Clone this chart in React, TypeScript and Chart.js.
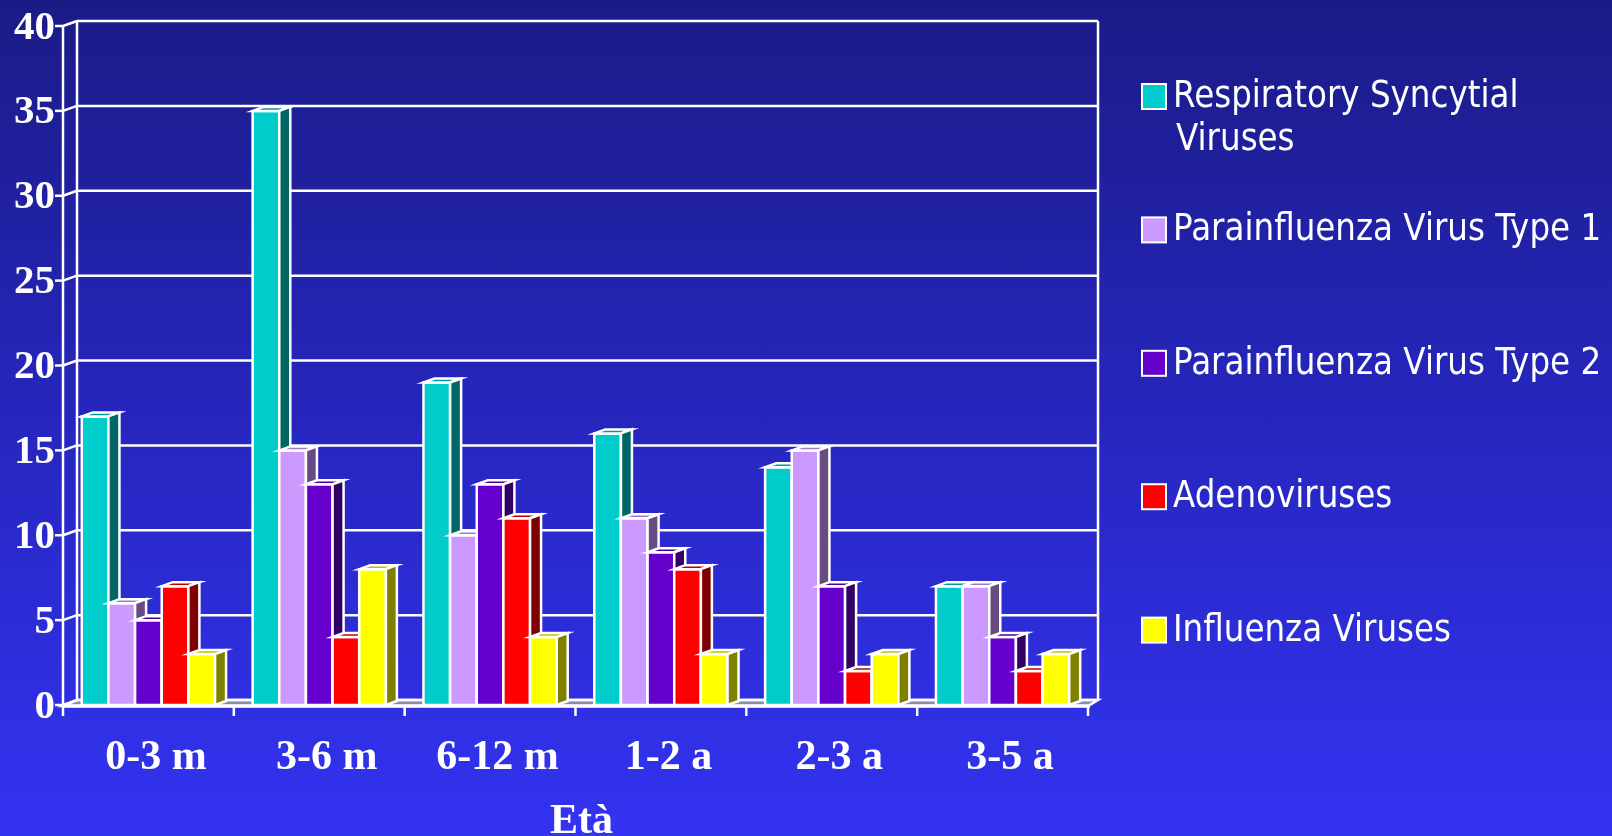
import React, { useEffect, useRef } from "react";
import { Chart, registerables } from "chart.js";

Chart.register(...registerables);

// ---- data ----
const categories = ["0-3 m", "3-6 m", "6-12 m", "1-2 a", "2-3 a", "3-5 a"];
const seriesLabels = [
  "Respiratory Syncytial Viruses",
  "Parainfluenza Virus Type 1",
  "Parainfluenza Virus Type 2",
  "Adenoviruses",
  "Influenza Viruses",
];
const legendLines = [
  ["Respiratory Syncytial", "Viruses"],
  ["Parainfluenza Virus Type 1"],
  ["Parainfluenza Virus Type 2"],
  ["Adenoviruses"],
  ["Influenza Viruses"],
];
const rsvValues = [17, 35, 19, 16, 14, 7];
const para1Values = [6, 15, 10, 11, 15, 7];
const para2Values = [5, 13, 13, 9, 7, 4];
const adenoValues = [7, 4, 11, 8, 2, 2];
const fluValues = [3, 8, 4, 3, 3, 3];
const yTicks = [0, 5, 10, 15, 20, 25, 30, 35, 40];
const xTitle = "Età";

// ---- styles ----
const frontColors = ["#00CCCC", "#CC99FF", "#6600CC", "#FF0000", "#FFFF00"];
const topColors = ["#009C9C", "#A07CC8", "#4C0099", "#C00000", "#C0C000"];
const sideColors = ["#006666", "#664C80", "#330066", "#800000", "#808000"];

const seriesValues = [rsvValues, para1Values, para2Values, adenoValues, fluValues];

const BAR_DX = 11;
const BAR_DY = -4;
const WALL_DX_L = 14;
const WALL_DX_R = 10;
const WALL_DY = -5;

function poly(ctx: CanvasRenderingContext2D, pts: number[][], fill: string) {
  ctx.beginPath();
  ctx.moveTo(pts[0][0], pts[0][1]);
  for (let i = 1; i < pts.length; i++) ctx.lineTo(pts[i][0], pts[i][1]);
  ctx.closePath();
  ctx.fillStyle = fill;
  ctx.fill();
  ctx.stroke();
}

function line(ctx: CanvasRenderingContext2D, x1: number, y1: number, x2: number, y2: number) {
  ctx.beginPath();
  ctx.moveTo(x1, y1);
  ctx.lineTo(x2, y2);
  ctx.stroke();
}

const threeDPlugin = {
  id: "threeD",
  beforeDatasetsDraw(chart: any) {
    const { ctx, chartArea } = chart;
    const y = chart.scales.y;
    const { left, right, top, bottom } = chartArea;
    const backL = left + WALL_DX_L;
    const backR = right + WALL_DX_R;
    ctx.save();
    ctx.strokeStyle = "#FFFFFF";
    ctx.lineWidth = 2.5;
    ctx.lineJoin = "miter";
    // floor
    poly(
      ctx,
      [
        [left, bottom + 1],
        [right, bottom + 1],
        [backR, bottom + WALL_DY],
        [backL, bottom + WALL_DY],
      ],
      "#8C8CA8"
    );
    // back wall gridlines and left wall ticks
    yTicks.forEach((v) => {
      const yp = y.getPixelForValue(v);
      line(ctx, backL, yp + WALL_DY, backR, yp + WALL_DY);
      line(ctx, left - 8, yp, left, yp);
      line(ctx, left, yp, backL, yp + WALL_DY);
    });
    // verticals
    line(ctx, left, top, left, bottom + 2);
    line(ctx, backL, top + WALL_DY, backL, bottom + WALL_DY);
    line(ctx, backR, top + WALL_DY, backR, bottom + WALL_DY);
    // front floor edge
    ctx.lineWidth = 3.5;
    line(ctx, left, bottom + 1, right + 2, bottom + 1);
    ctx.lineWidth = 2.5;
    // category ticks
    const n = categories.length;
    const catW = (right - left) / n;
    for (let k = 0; k <= n; k++) {
      const xp = left + k * catW;
      line(ctx, xp, bottom + 1, xp, bottom + 11);
    }
    ctx.restore();
  },
  afterDatasetsDraw(chart: any) {
    const { ctx } = chart;
    ctx.save();
    ctx.strokeStyle = "#FFFFFF";
    ctx.lineWidth = 2.5;
    ctx.lineJoin = "miter";
    for (let c = 0; c < categories.length; c++) {
      for (let d = 0; d < seriesValues.length; d++) {
        const el = chart.getDatasetMeta(d).data[c];
        if (!el) continue;
        const p = el.getProps(["x", "y", "base", "width"], true);
        const x0 = p.x - p.width / 2;
        const x1 = p.x + p.width / 2;
        const t = p.y;
        const b = p.base;
        // front
        poly(ctx, [[x0, t], [x1, t], [x1, b], [x0, b]], frontColors[d]);
        // top
        poly(
          ctx,
          [[x0, t], [x1, t], [x1 + BAR_DX, t + BAR_DY], [x0 + BAR_DX, t + BAR_DY]],
          topColors[d]
        );
        // side
        poly(
          ctx,
          [[x1, t], [x1 + BAR_DX, t + BAR_DY], [x1 + BAR_DX, b + BAR_DY], [x1, b]],
          sideColors[d]
        );
      }
    }
    ctx.restore();
  },
  afterDraw(chart: any) {
    const { ctx, chartArea } = chart;
    const x = chart.scales.x;
    const y = chart.scales.y;
    ctx.save();
    ctx.fillStyle = "#FFFFFF";
    // y tick labels
    ctx.font = 'bold 41px "Liberation Serif", "Times New Roman", serif';
    ctx.textAlign = "right";
    ctx.textBaseline = "middle";
    yTicks.forEach((v) => {
      ctx.fillText(String(v), chartArea.left - 8, y.getPixelForValue(v) + 2);
    });
    // x category labels
    ctx.font = 'bold 42px "Liberation Serif", "Times New Roman", serif';
    ctx.textAlign = "center";
    ctx.textBaseline = "alphabetic";
    categories.forEach((lab, i) => {
      ctx.fillText(lab, x.getPixelForValue(i) + 7.5, chartArea.bottom + 64);
    });
    // axis title
    ctx.fillText(xTitle, (chartArea.left + chartArea.right) / 2 + 6, chartArea.bottom + 128);
    // legend
    const lx = 1142;
    const tx = 1173;
    const step = 133.4;
    const firstBase = 107;
    ctx.textAlign = "left";
    ctx.font = '37px "DejaVu Sans", Verdana, sans-serif';
    legendLines.forEach((lines, i) => {
      const base = firstBase + i * step;
      ctx.fillStyle = frontColors[i];
      ctx.fillRect(lx, base - 23, 24, 25);
      ctx.strokeStyle = "#FFFFFF";
      ctx.lineWidth = 2;
      ctx.strokeRect(lx, base - 23, 24, 25);
      ctx.fillStyle = "#FFFFFF";
      lines.forEach((txt, j) => {
        ctx.save();
        ctx.translate(tx + (j > 0 ? 3 : 0), base + j * 43);
        ctx.scale(0.88, 1);
        ctx.fillText(txt, 0, 0);
        ctx.restore();
      });
    });
    ctx.restore();
  },
};

export default function App() {
  const canvasRef = useRef<HTMLCanvasElement | null>(null);

  useEffect(() => {
    if (!canvasRef.current) return;
    const chart = new Chart(canvasRef.current, {
      type: "bar",
      data: {
        labels: categories,
        datasets: seriesValues.map((vals, i) => ({
          label: seriesLabels[i],
          data: vals,
          backgroundColor: "rgba(0,0,0,0)",
          borderWidth: 0,
          categoryPercentage: 0.78,
          barPercentage: 1.0,
        })),
      },
      options: {
        animation: false,
        responsive: true,
        maintainAspectRatio: false,
        events: [],
        layout: { padding: { left: 63, right: 524, top: 26, bottom: 131 } },
        plugins: {
          legend: { display: false },
          tooltip: { enabled: false },
        },
        scales: {
          x: { type: "category", display: false, offset: true },
          y: { type: "linear", display: false, min: 0, max: 40 },
        },
      },
      plugins: [threeDPlugin],
    });
    return () => chart.destroy();
  }, []);

  return (
    <div
      style={{
        position: "absolute",
        left: 0,
        top: 0,
        width: 1612,
        height: 836,
        background: "linear-gradient(to bottom, #1B1B87 0%, #2626BE 50%, #3333F2 100%)",
        overflow: "hidden",
      }}
    >
      <canvas ref={canvasRef} />
    </div>
  );
}
